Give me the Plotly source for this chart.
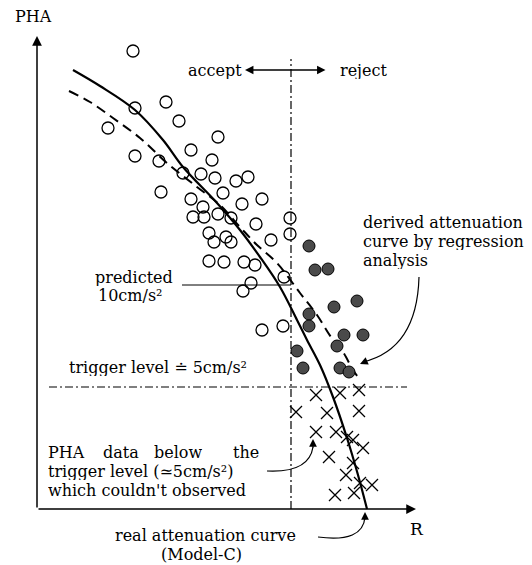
import plotly.graph_objects as go

# schematic units: R to the right, PHA upward (origin at axis corner)
open_r = [96, 98, 129, 142, 71, 181, 154, 98, 122, 175, 146, 164, 178, 199, 211,
          124, 154, 186, 205, 225, 166, 156, 167, 181, 194, 219, 253, 253, 172,
          177, 189, 194, 234, 172, 187, 207, 218, 247, 214, 206, 225, 246]
open_pha = [458, 401, 407, 388, 381, 372, 359, 353, 348, 349, 336, 335, 331, 328, 332,
            317, 310, 316, 305, 310, 302, 292, 292, 295, 291, 285, 291, 275, 276,
            267, 272, 267, 269, 248, 247, 247, 244, 232, 226, 218, 179, 183]

rej_r = [272, 278, 291, 297, 320, 272, 272, 307, 326, 300, 260, 266, 303, 312]
rej_pha = [263, 239, 240, 202, 208, 195, 183, 174, 174, 163, 158, 141, 141, 137]

miss_r = [279, 303, 322, 259, 290, 322, 279, 299, 310, 316, 326, 292, 316, 309,
          323, 335, 298, 317]
miss_pha = [114, 116, 119, 97, 96, 98, 77, 77, 72, 69, 61, 52, 46, 34, 26, 24, 14, 16]

real_r = [36, 63, 98, 126, 146, 180, 203, 223, 243, 260, 270, 283, 296, 310, 321, 330]
real_pha = [439, 423, 399, 369, 342, 306, 279, 252, 222, 189, 169, 144, 112, 71, 34, 0]

reg_r = [32, 53, 76, 103, 130, 160, 183, 203, 220, 240, 263, 280, 294, 306, 316, 321]
reg_pha = [418, 407, 391, 371, 346, 322, 304, 282, 264, 246, 216, 194, 172, 157, 139, 132]

r_cut = 254        # accept / reject boundary
trigger = 122      # trigger level
predicted = 224    # predicted 10cm/s2

FONT = "DejaVu Serif"

fig = go.Figure()

fig.add_trace(go.Scatter(x=real_r, y=real_pha, mode="lines", line_shape="spline",
                         line=dict(color="black", width=2.2), hoverinfo="skip"))
fig.add_trace(go.Scatter(x=reg_r, y=reg_pha, mode="lines", line_shape="spline",
                         line=dict(color="black", width=2, dash="10px,6px"), hoverinfo="skip"))
fig.add_trace(go.Scatter(x=open_r, y=open_pha, mode="markers",
                         marker=dict(symbol="circle-open", size=12, color="black",
                                     line=dict(width=1.3))))
fig.add_trace(go.Scatter(x=rej_r, y=rej_pha, mode="markers",
                         marker=dict(symbol="circle", size=12, color="#4a4a4a",
                                     line=dict(color="black", width=1))))
fig.add_trace(go.Scatter(x=miss_r, y=miss_pha, mode="markers",
                         marker=dict(symbol="x-thin-open", size=12, color="black",
                                     line=dict(width=1.3, color="black"))))

dashdot = "8px,3px,2px,3px"
fig.add_shape(type="line", x0=r_cut, x1=r_cut, y0=0, y1=450,
              line=dict(color="black", width=1.2, dash=dashdot))
fig.add_shape(type="line", x0=12, x1=370, y0=trigger, y1=trigger,
              line=dict(color="black", width=1.2, dash=dashdot))
fig.add_shape(type="line", x0=145, x1=r_cut, y0=predicted, y1=predicted,
              line=dict(color="black", width=1))

# curved leader lines
for p in ["M 382,232 Q 380,160 326,147",
          "M 230,38 Q 272,36 276,62",
          "M 281,-28 Q 326,-34 328,-8"]:
    fig.add_shape(type="path", path=p, line=dict(color="black", width=1.2))

arrows = [
    dict(x=0, y=473, ax=0, ay=0, w=1.5),            # PHA axis
    dict(x=379, y=0, ax=0, ay=0, w=1.5),            # R axis
    dict(x=323, y=145, ax=330, ay=148, w=1.2),
    dict(x=276, y=70, ax=276, ay=60, w=1.2),
    dict(x=328, y=-3, ax=328, ay=-12, w=1.2),
]
for a in arrows:
    fig.add_annotation(x=a["x"], y=a["y"], ax=a["ax"], ay=a["ay"], axref="x", ayref="y",
                       text="", showarrow=True, arrowhead=2, arrowsize=1.3,
                       arrowwidth=a["w"], arrowcolor="black", standoff=0)

fig.add_annotation(x=208, y=439, ax=290, ay=439, axref="x", ayref="y", text="",
                   showarrow=True, arrowhead=2, arrowside="end+start", arrowsize=1.3,
                   arrowwidth=1.3, arrowcolor="black", standoff=0, startstandoff=0)

# one annotation per text line (tight line spacing like the original)
texts = [
    (-4, 493, "PHA", "center", 16),
    (380, -19, "R", "center", 17),
    (206, 439, "accept", "right", 16),
    (302, 439, "reject", "left", 16),
    (97, 232, "predicted", "center", 16),
    (93, 214, "10cm/s²", "center", 16),
    (31, 142, "trigger level ≐ 5cm/s²", "left", 16),
    (10, 57, "PHA", "left", 16),
    (65, 57, "data", "left", 16),
    (116, 57, "below", "left", 16),
    (223, 57, "the", "right", 16),
    (10, 38, "trigger level (≃5cm/s²)", "left", 16),
    (10, 19, "which couldn't observed", "left", 16),
    (325, 287, "derived attenuation", "left", 16),
    (325, 268, "curve by regression", "left", 16),
    (325, 249, "analysis", "left", 16),
    (168, -26, "real attenuation curve", "center", 16),
    (164, -45, "(Model-C)", "center", 16),
]
for x, y, t, xa, sz in texts:
    fig.add_annotation(x=x, y=y, text=t, showarrow=False, xanchor=xa, yanchor="middle",
                       height=17, borderpad=0,
                       font=dict(family=FONT, size=sz, color="black"))

# page body has an 8px margin, so the figure is a bit smaller than the window
fig.update_layout(
    width=524, height=557,
    margin=dict(l=0, r=0, t=0, b=0),
    paper_bgcolor="white", plot_bgcolor="white",
    showlegend=False,
    xaxis=dict(range=[-29, 495], visible=False, fixedrange=True),
    yaxis=dict(range=[-56, 501], visible=False, fixedrange=True),
)

fig.write_html("out.html")
